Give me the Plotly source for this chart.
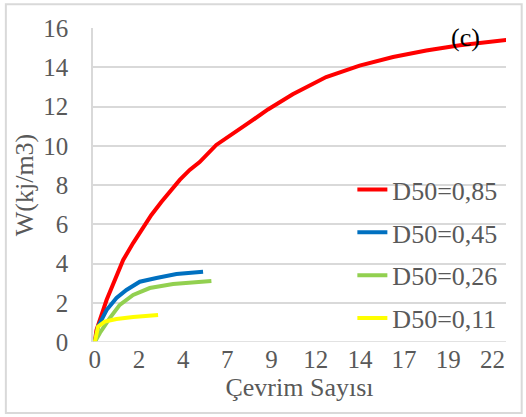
import plotly.graph_objects as go

# ---- data ----
red_x = [0, 0.09, 0.65, 1.1, 1.57, 2.12, 2.67, 3.13, 3.68, 4.24, 4.7, 5.25, 5.8, 6.72, 7.65, 8.57, 9.58,
         10.95, 12.8, 14.65, 16.5, 18.34, 20.2, 22.76]
red_y = [0, 0.6, 2.14, 3.16, 4.18, 5.04, 5.81, 6.47, 7.13, 7.74, 8.26, 8.77, 9.17, 10.04, 10.65, 11.2, 11.85,
         12.62, 13.5, 14.08, 14.52, 14.85, 15.12, 15.39]

blue_x = [0, 0.18, 0.65, 1.2, 1.75, 2.49, 3.41, 4.52, 5.99]
blue_y = [0, 0.78, 1.63, 2.24, 2.65, 3.07, 3.26, 3.46, 3.58]

green_x = [0, 0.28, 0.83, 1.38, 2.12, 3.04, 4.33, 6.45]
green_y = [0, 0.46, 1.22, 1.89, 2.4, 2.75, 2.96, 3.11]

yellow_x = [0, 0.18, 0.55, 1.2, 2.12, 3.5]
yellow_y = [0, 0.78, 1.04, 1.17, 1.27, 1.37]

series_names = ["D50=0,85", "D50=0,45", "D50=0,26", "D50=0,11"]
series_colors = ["#FF0000", "#0070C0", "#92D050", "#FFFF00"]

x_tickvals = [0, 2.444, 4.889, 7.333, 9.778, 12.222, 14.667, 17.111, 19.556, 22.0]
x_ticktext = ["0", "2", "4", "7", "9", "12", "14", "17", "19", "22"]
y_tickvals = [0, 2, 4, 6, 8, 10, 12, 14, 16]

FONT = "Liberation Serif"
GRAY = "#595959"

fig = go.Figure()
xs = [red_x, blue_x, green_x, yellow_x]
ys = [red_y, blue_y, green_y, yellow_y]
for i in range(4):
    fig.add_trace(go.Scatter(
        x=xs[i], y=ys[i], mode="lines", name=series_names[i],
        line=dict(color=series_colors[i], width=4),
        legendgroup=str(i),
    ))

fig.update_layout(
    width=526, height=417,
    margin=dict(l=93, r=20, t=28, b=75),
    paper_bgcolor="white", plot_bgcolor="white",
    font=dict(family=FONT, size=25, color=GRAY),
    showlegend=True,
    legend=dict(
        x=0.628, y=0.56, xanchor="left", yanchor="top",
        bgcolor="rgba(0,0,0,0)", traceorder="grouped", tracegroupgap=6,
        font=dict(family=FONT, size=26, color=GRAY),
    ),
    xaxis=dict(
        range=[-0.1, 22.75], tickmode="array", tickvals=x_tickvals, ticktext=x_ticktext,
        showgrid=False, zeroline=False, showline=False, ticks="",
        title=dict(text="Çevrim Sayısı", standoff=2, font=dict(family=FONT, size=26, color=GRAY)),
        tickfont=dict(family=FONT, size=25, color=GRAY),
    ),
    yaxis=dict(
        range=[0, 16], tickmode="array", tickvals=y_tickvals,
        showgrid=True, gridcolor="#D9D9D9", gridwidth=1.5,
        zeroline=False, showline=True, linecolor="#D9D9D9", linewidth=1.5,
        ticks="outside", ticklen=18, tickcolor="rgba(0,0,0,0)",
        title=dict(text="W(kj/m3)", standoff=2, font=dict(family=FONT, size=26, color=GRAY)),
        tickfont=dict(family=FONT, size=25, color=GRAY),
    ),
    shapes=[
        dict(type="rect", xref="paper", yref="paper",
             x0=-0.211, x1=1.038, y0=-0.226, y1=1.076,
             line=dict(color="#D9D9D9", width=2), fillcolor="rgba(0,0,0,0)", layer="below"),
        dict(type="line", xref="paper", yref="y", x0=0, x1=1, y0=0, y1=0,
             line=dict(color="#D9D9D9", width=1.5)),
    ],
    annotations=[
        dict(text="(c)", x=(465 - 93) / 413, y=(342 - 37) / 314, xref="paper", yref="paper",
             xanchor="center", yanchor="middle", showarrow=False,
             font=dict(family=FONT, size=26, color="black")),
    ],
)

fig.write_html("out.html")
